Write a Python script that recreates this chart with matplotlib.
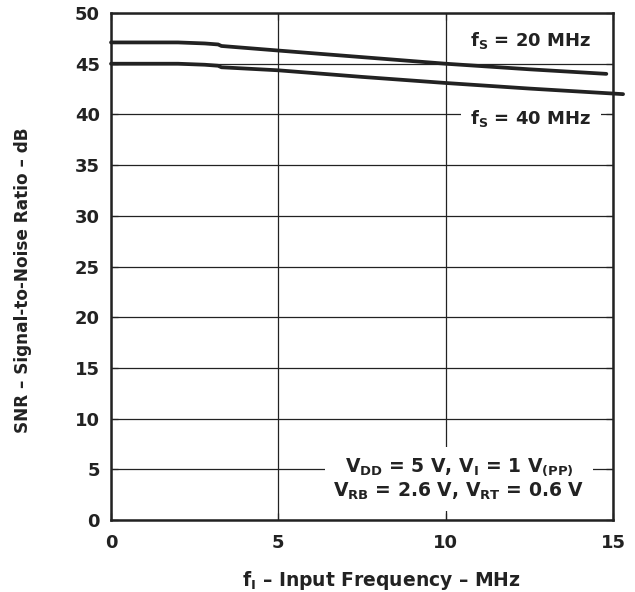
import matplotlib
matplotlib.use("Agg")
import matplotlib.pyplot as plt

plt.rcParams['font.family'] = ['DejaVu Sans']
plt.rcParams['font.weight'] = 'bold'
plt.rcParams['mathtext.fontset'] = 'custom'
plt.rcParams['mathtext.rm'] = 'DejaVu Sans:bold'
plt.rcParams['mathtext.bf'] = 'DejaVu Sans:bold'
plt.rcParams['mathtext.it'] = 'DejaVu Sans:bold'

# Data
x_20 = [0, 1, 2, 2.8, 3.2, 3.3, 5, 7.5, 10, 12.5, 14.8]
snr_20 = [47.1, 47.1, 47.1, 47.0, 46.9, 46.75, 46.3, 45.65, 45.0, 44.45, 44.0]
x_40 = [0, 1, 2, 2.8, 3.2, 3.3, 5, 7.5, 10, 12.5, 15.3]
snr_40 = [45.0, 45.0, 45.0, 44.9, 44.8, 44.65, 44.35, 43.7, 43.1, 42.55, 42.0]

xticks = [0, 5, 10, 15]
yticks = [0, 5, 10, 15, 20, 25, 30, 35, 40, 45, 50]

ink = '#222222'
fs = 13

fig = plt.figure(figsize=(6.35, 5.92), dpi=100)
ax = fig.add_axes([0.1748, 0.1216, 0.7906, 0.8564])

ax.set_xlim(0, 15)
ax.set_ylim(0, 50)
ax.set_xticks(xticks)
ax.set_yticks(yticks)
ax.grid(True, color=ink, linewidth=0.9, zorder=1)
ax.tick_params(direction='in', length=5, width=0.9, color=ink,
               top=True, right=True, labelsize=fs, labelcolor=ink)
ax.tick_params(axis='y', pad=8)
ax.tick_params(axis='x', pad=10)
for lab in ax.get_xticklabels() + ax.get_yticklabels():
    lab.set_fontweight('bold')
for s in ax.spines.values():
    s.set_linewidth(1.8)
    s.set_color(ink)
    s.set_zorder(5)

ax.plot(x_20, snr_20, color=ink, linewidth=2.7, solid_capstyle='round',
        clip_on=False, zorder=4)
ax.plot(x_40, snr_40, color=ink, linewidth=2.7, solid_capstyle='round',
        clip_on=False, zorder=4)

ax.text(12.55, 47.25, r'f$_\mathrm{S}$ = 20 MHz', ha='center', va='center',
        fontsize=fs, fontweight='bold', color=ink, zorder=3)
ax.text(12.55, 39.6, r'f$_\mathrm{S}$ = 40 MHz', ha='center', va='center',
        fontsize=fs, fontweight='bold', color=ink, zorder=3,
        bbox=dict(facecolor='white', edgecolor='none', pad=7))
ax.text(10.4, 4.0, 'V$_\\mathrm{DD}$ = 5 V, V$_\\mathrm{I}$ = 1 V$_\\mathrm{(PP)}$\n'
        'V$_\\mathrm{RB}$ = 2.6 V, V$_\\mathrm{RT}$ = 0.6 V',
        ha='center', va='center', fontsize=13.5, fontweight='bold', color=ink,
        linespacing=1.2, zorder=3,
        bbox=dict(facecolor='white', edgecolor='none', pad=6))

ax.set_xlabel(r'f$_\mathrm{I}$ – Input Frequency – MHz', fontsize=13.5,
              fontweight='bold', color=ink, labelpad=12)
ax.xaxis.label.set_x(0.538)
ax.set_ylabel('SNR – Signal-to-Noise Ratio – dB', fontsize=12.2,
              fontweight='bold', color=ink)
ax.yaxis.set_label_coords(-0.158, 0.473)

fig.savefig('out.png', dpi=100)
